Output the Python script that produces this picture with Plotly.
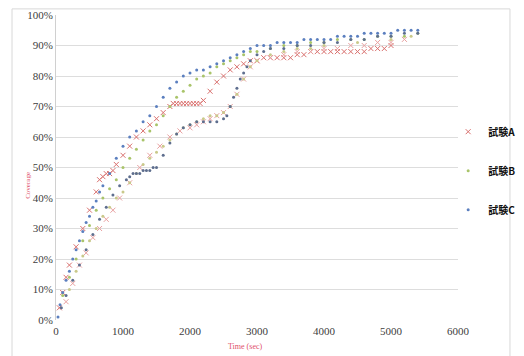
import plotly.graph_objects as go

# ---- data (time in sec, coverage in %) ----
series_names = ["試験A", "試験B", "試験C"]

a1_t = [50, 100, 150, 200, 300, 400, 500, 600, 650, 700, 750, 800, 850, 900, 1000, 1100, 1200, 1300, 1400, 1500,
        1600, 1700, 1750, 1800, 1850, 1900, 1950, 2000, 2050, 2100, 2150, 2200, 2300, 2400, 2500, 2600, 2700, 2800,
        2900, 3000, 3100, 3200, 3300, 3400, 3500, 3600, 3700, 3800, 3900, 4000, 4100, 4200, 4300, 4400, 4500, 4600,
        4700, 4800, 4900, 5000]
a1_v = [4, 9, 14, 18, 24, 30, 36, 42, 46, 47, 48, 48, 49, 51, 54, 57, 60, 62, 64, 66,
        68, 70, 71, 71, 71, 71, 71, 71, 71, 71, 71, 72, 75, 78, 80, 82, 83, 84,
        85, 85, 86, 86, 86, 86, 86, 87, 87, 88, 88, 88, 88, 88, 88, 88, 88, 88,
        89, 89, 89, 90]

a2_t = [150, 250, 350, 450, 550, 650, 750, 850, 950, 1100, 1250, 1400, 1550, 1700, 1850, 2000, 2100, 2200, 2300,
        2400, 2500, 2600, 2700, 2800, 2900, 3000, 3200, 3400, 3600, 3800, 4000, 4200, 4400, 4600, 4800, 5000, 5200]
a2_v = [6, 12, 18, 22, 27, 30, 33, 36, 40, 45, 50, 54, 57, 60, 62, 63, 64, 65, 66,
        67, 68, 70, 74, 79, 83, 85, 86, 87, 88, 88, 89, 89, 90, 90, 91, 91, 92]

b1_t = [100, 200, 300, 400, 500, 600, 700, 800, 900, 1000, 1100, 1200, 1300, 1400, 1500, 1600, 1700, 1800, 1900,
        2000, 2100, 2200, 2300, 2400, 2500, 2600, 2700, 2800, 2900, 3000, 3200, 3400, 3600, 3800, 4000, 4200, 4400,
        4600, 4800, 5000, 5200, 5400]
b1_v = [8, 14, 20, 26, 31, 36, 40, 43, 46, 50, 53, 56, 59, 62, 64, 67, 70, 73, 75,
        77, 79, 80, 81, 83, 84, 85, 86, 87, 88, 88, 89, 90, 90, 91, 91, 92, 92,
        92, 93, 93, 93, 94]

b2_t = [200, 300, 400, 500, 600, 700, 800, 900, 1000, 1100, 1200, 1300, 1400, 1500, 1600, 1700, 1800, 1900, 2000,
        2100, 2200, 2300, 2400, 2500, 2600, 2700, 2800, 2900, 3000, 3200, 3400, 3600, 3800, 4000, 4500, 5000, 5300]
b2_v = [10, 16, 21, 26, 30, 34, 37, 40, 42, 45, 48, 51, 53, 55, 57, 59, 61, 63, 64,
        65, 66, 67, 67, 68, 70, 74, 79, 83, 85, 87, 88, 89, 89, 90, 91, 92, 93]

c1_t = [30, 60, 100, 150, 200, 250, 300, 350, 400, 450, 500, 550, 600, 650, 700, 800, 900, 1000, 1100, 1200, 1300,
        1400, 1500, 1600, 1700, 1800, 1900, 2000, 2100, 2200, 2300, 2400, 2500, 2600, 2700, 2800, 2900, 3000, 3100,
        3200, 3300, 3400, 3500, 3600, 3700, 3800, 3900, 4000, 4100, 4200, 4300, 4400, 4500, 4600, 4700, 4800,
        4900, 5000, 5100, 5200, 5300, 5400]
c1_v = [1, 5, 9, 13, 16, 20, 23, 26, 29, 32, 34, 37, 39, 42, 44, 48, 53, 57, 60, 62, 65,
        67, 70, 73, 76, 78, 80, 81, 82, 82, 83, 84, 85, 86, 87, 88, 89, 90, 90,
        90, 91, 91, 91, 91, 92, 92, 92, 92, 92, 93, 93, 93, 93, 94, 94, 94,
        94, 94, 95, 95, 95, 95]

c2_t = [80, 150, 250, 350, 450, 550, 650, 750, 850, 950, 1050, 1100, 1150, 1200, 1250, 1300, 1350, 1400, 1450,
        1500, 1600, 1700, 1800, 1900, 2000, 2100, 2200, 2300, 2400, 2500, 2550, 2600, 2650, 2700, 2750, 2800,
        2850, 2900, 3000, 3100, 3200, 3400, 3600, 3800, 4000, 4200, 4400, 4600, 4800, 5000, 5200, 5400]
c2_v = [4, 8, 13, 18, 23, 28, 33, 37, 41, 44, 46, 47, 48, 48, 48, 49, 49, 49, 50,
        50, 54, 58, 61, 63, 64, 65, 65, 65, 65, 66, 67, 70, 73, 76, 79, 81,
        83, 85, 87, 88, 89, 89, 90, 90, 91, 91, 92, 92, 93, 93, 94, 94]

x_ticks = [0, 1000, 2000, 3000, 4000, 5000, 6000]
y_ticks = [0, 10, 20, 30, 40, 50, 60, 70, 80, 90, 100]

colors = {"A": "#D9706E", "B": "#A9C46A", "C": "#5B7FBF"}

fig = go.Figure()


def add_run(t, v, key, name, show, symbol, size, color, lw):
    fig.add_trace(go.Scatter(
        x=t, y=[val / 100 for val in v], mode="markers", name=name,
        legendgroup=key, showlegend=show,
        marker=dict(symbol=symbol, size=size, color=color,
                    line=dict(width=lw, color=color)),
    ))


add_run(a1_t, a1_v, "A", series_names[0], True, "x-thin-open", 5, colors["A"], 1)
add_run(a2_t, a2_v, "A", series_names[0], False, "x-thin-open", 5, "#E8A0A0", 1)
add_run(b1_t, b1_v, "B", series_names[1], True, "circle", 3, colors["B"], 0)
add_run(b2_t, b2_v, "B", series_names[1], False, "circle", 3, "#C9C98A", 0)
add_run(c1_t, c1_v, "C", series_names[2], True, "circle", 3, colors["C"], 0)
add_run(c2_t, c2_v, "C", series_names[2], False, "circle", 3, "#5E6E8E", 0)

SERIF = "Liberation Serif"
tick_font = dict(family=SERIF, size=11, color="#404040")

fig.update_layout(
    width=524, height=356,
    margin=dict(l=56, r=0, t=15, b=36, autoexpand=False),
    paper_bgcolor="white", plot_bgcolor="white",
    template="none",
    font=dict(family=SERIF, size=11),
    xaxis=dict(domain=[0, 0.859], range=[0, 6000], tickvals=x_ticks,
               ticktext=[str(v) for v in x_ticks],
               showgrid=False, zeroline=False, showline=False, ticks="",
               ticklabelstandoff=3, tickfont=tick_font),
    yaxis=dict(range=[0, 1], tickvals=[v / 100 for v in y_ticks],
               ticktext=[f"{v}%" for v in y_ticks],
               showgrid=True, gridcolor="#DDDDDD", gridwidth=1, zeroline=False,
               showline=True, linecolor="#D0D0D0", linewidth=1, ticks="",
               tickfont=tick_font),
    legend=dict(x=0.838, xanchor="left", y=0.665, yanchor="top",
                font=dict(family="Noto Sans CJK JP", size=10, color="#111111", weight="bold"),
                tracegroupgap=20, itemwidth=30, bgcolor="rgba(0,0,0,0)"),
    showlegend=True,
)

fig.add_annotation(text="Time (sec)", xref="paper", yref="paper", x=0.404, y=-0.088,
                   showarrow=False, font=dict(family=SERIF, size=8, color="#E0506A"),
                   yanchor="middle")
fig.add_annotation(text="Coverage", xref="paper", yref="paper", x=-0.0726, y=0.44,
                   showarrow=False, textangle=-90,
                   font=dict(family=SERIF, size=7, color="#E0506A"))

fig.add_shape(type="rect", xref="paper", yref="paper", x0=-0.094, x1=0.970, y0=-0.12, y1=1.02,
              line=dict(color="#D8D8D8", width=1))

fig.write_html("out.html")
